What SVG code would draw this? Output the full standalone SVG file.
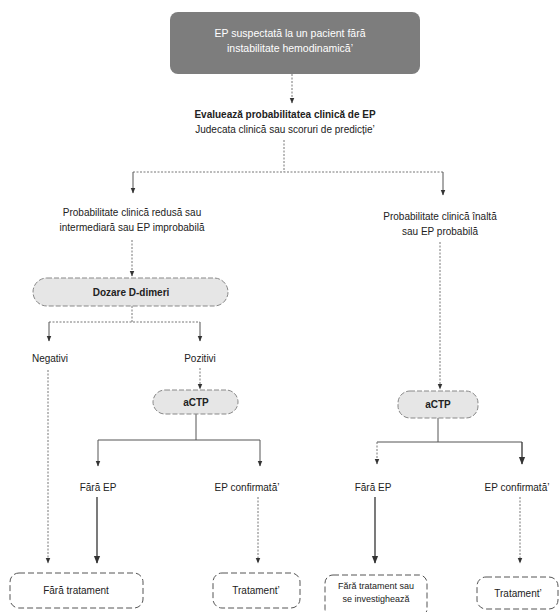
<svg xmlns="http://www.w3.org/2000/svg" width="560" height="612" viewBox="0 0 560 612">
<defs>
<marker id="ah" viewBox="0 0 10 10" refX="9" refY="5" markerWidth="6" markerHeight="6" orient="auto-start-reverse">
<path d="M0,1 L10,5 L0,9 z" fill="#333"/>
</marker>
<style>
text{font-family:"Liberation Sans",Arial,sans-serif;font-size:10px;fill:#222;text-anchor:middle}
.b{font-weight:bold}
.w{fill:#fff;font-size:10.5px}
.sm{font-size:9px}
.c{fill:none;stroke:#555;stroke-width:1}
.d{stroke-dasharray:2 1.5;stroke:#777}
.s{stroke:#333;stroke-width:1.3}
.pill{fill:#e6e6e6;stroke:#888;stroke-width:1;stroke-dasharray:5 2}
.box{fill:#fff;stroke:#555;stroke-width:1;stroke-dasharray:6 3}
</style>
</defs>
<rect width="560" height="612" fill="#fff"/>
<g id="connectors">
<path class="c d" d="M292,74 V103" marker-end="url(#ah)"/>
<path class="c d" d="M284,140 V172 M133,172 H443"/>
<path class="c" d="M133,172 V193" marker-end="url(#ah)"/>
<path class="c" d="M443,172 V195" marker-end="url(#ah)"/>
<path class="c d" d="M132,240 V276" marker-end="url(#ah)"/>
<path class="c d" d="M132,306 V322 M49,322 H200"/>
<path class="c" d="M49,322 V341" marker-end="url(#ah)"/>
<path class="c" d="M200,322 V341" marker-end="url(#ah)"/>
<path class="c d" d="M200,368 V389" marker-end="url(#ah)"/>
<path class="c" d="M196,414 V440 M98,440 H260"/>
<path class="c" d="M98,440 V466" marker-end="url(#ah)"/>
<path class="c" d="M260,440 V466" marker-end="url(#ah)"/>
<path class="c d" d="M440,242 V389" marker-end="url(#ah)"/>
<path class="c" d="M438,418 V442 M377,442 H522"/>
<path class="c d" d="M377,442 V464" marker-end="url(#ah)"/>
<path class="c s" d="M522,442 V464" marker-end="url(#ah)"/>
<path class="c d" d="M48,370 V563" marker-end="url(#ah)"/>
<path class="c s" d="M97,497 V563" marker-end="url(#ah)"/>
<path class="c d" d="M258,497 V563" marker-end="url(#ah)"/>
<path class="c s" d="M375,497 V563" marker-end="url(#ah)"/>
<path class="c d" d="M520,497 V563" marker-end="url(#ah)"/>
</g>
<g id="start">
<rect x="170" y="12" width="250" height="62" rx="8" fill="#7d7d7d"/>
<text class="w" x="290" y="37">EP suspectată la un pacient fără</text>
<text class="w" x="290" y="52">instabilitate hemodinamică’</text>
</g>
<g id="evaluate">
<text class="b" x="285" y="118">Evaluează probabilitatea clinică de EP</text>
<text x="285" y="133">Judecata clinică sau scoruri de predicție’</text>
</g>
<g id="low-prob">
<text x="132" y="216">Probabilitate clinică redusă sau</text>
<text x="132" y="231">intermediară sau EP improbabilă</text>
</g>
<g id="high-prob">
<text x="440" y="220">Probabilitate clinică înaltă</text>
<text x="440" y="235">sau EP probabilă</text>
</g>
<g id="ddimer">
<rect class="pill" x="33" y="278" width="195" height="28" rx="14"/>
<text class="b" x="131" y="296">Dozare D-dimeri</text>
</g>
<g id="negative"><text x="50" y="362">Negativi</text></g>
<g id="positive"><text x="200" y="362">Pozitivi</text></g>
<g id="actp-left">
<rect class="pill" x="153" y="390" width="85" height="24" rx="12"/>
<text class="b" x="196" y="406">aCTP</text>
</g>
<g id="actp-right">
<rect class="pill" x="398" y="391" width="80" height="27" rx="12"/>
<text class="b" x="438" y="408">aCTP</text>
</g>
<g id="no-pe-left"><text x="98" y="491">Fără EP</text></g>
<g id="pe-conf-left"><text x="247" y="491">EP confirmată’</text></g>
<g id="no-pe-right"><text x="373" y="491">Fără EP</text></g>
<g id="pe-conf-right"><text x="517" y="491">EP confirmată’</text></g>
<g id="no-treatment">
<rect class="box" x="10" y="573" width="133" height="35" rx="9"/>
<text x="76" y="594">Fără tratament</text>
</g>
<g id="treatment-left">
<rect class="box" x="213" y="573" width="87" height="35" rx="9"/>
<text x="256" y="594">Tratament’</text>
</g>
<g id="no-treatment-investigate">
<rect class="box" x="325" y="575" width="102" height="42" rx="8"/>
<text class="sm" x="376" y="589">Fără tratament sau</text>
<text class="sm" x="376" y="602">se investighează</text>
</g>
<g id="treatment-right">
<rect class="box" x="477" y="577" width="81" height="32" rx="9"/>
<text x="518" y="597">Tratament’</text>
</g>
</svg>
